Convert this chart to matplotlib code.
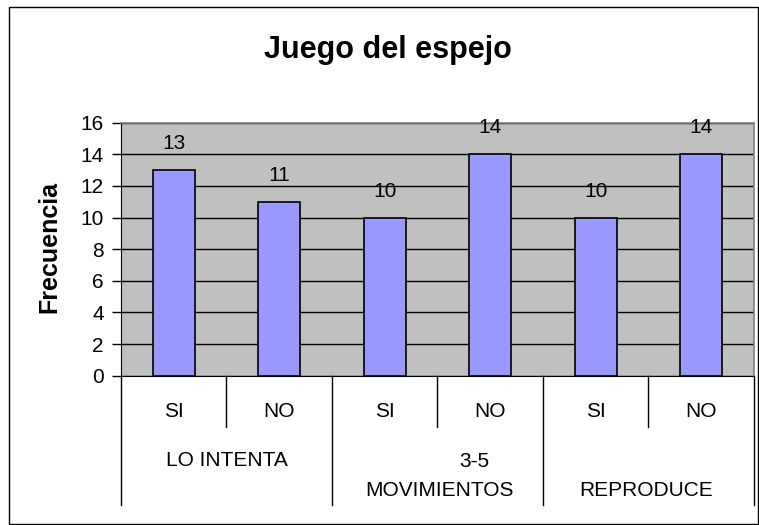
import matplotlib
matplotlib.use("Agg")
import matplotlib.pyplot as plt
from matplotlib.patches import Rectangle
import matplotlib.transforms as mtransforms

plt.rcParams['font.family'] = ['Liberation Sans', 'DejaVu Sans']

title = "Juego del espejo"
ylabel = "Frecuencia"
sub_labels = ["SI", "NO", "SI", "NO", "SI", "NO"]
values = [13, 11, 10, 14, 10, 14]
yticks = [0, 2, 4, 6, 8, 10, 12, 14, 16]

W, H = 759, 525
fig = plt.figure(figsize=(W / 100, H / 100), dpi=100)
fig.patch.set_facecolor('white')

# outer chart border
fig.patches.append(Rectangle((9 / W, 1 - 523.5 / H), (758 - 9) / W, (523.5 - 7) / H,
                             transform=fig.transFigure, fill=False,
                             edgecolor='black', linewidth=1.0))

left, right, top, bottom = 121, 754, 122.7, 375.7
ax = fig.add_axes([left / W, 1 - bottom / H, (right - left) / W, (bottom - top) / H])
ax.set_facecolor('#C0C0C0')

x = list(range(len(values)))
ax.bar(x, values, width=0.4, color='#9999FF', edgecolor='black', linewidth=1.2, zorder=3)
ax.set_xlim(-0.5, len(values) - 0.5)
ax.set_ylim(0, 16)
ax.set_yticks(yticks)
ax.set_yticklabels([str(t) for t in yticks], fontsize=15)
ax.yaxis.grid(True, color='black', linewidth=1.0, zorder=0)
ax.set_axisbelow(True)
ax.tick_params(axis='y', direction='out', length=6.5, width=1, pad=6)
ax.set_xticks([])
for s in ['top', 'right']:
    ax.spines[s].set_color('#808080')
    ax.spines[s].set_linewidth(1.2)
ax.spines['left'].set_color('black')
ax.spines['bottom'].set_color('black')

for xi, v in zip(x, values):
    ax.annotate(str(v), (xi, v), xytext=(0, 15), textcoords='offset points',
                ha='center', va='baseline', fontsize=15)

trans = mtransforms.blended_transform_factory(ax.transData, ax.transAxes)
axh = bottom - top
inner_y = -(427 - bottom) / axh
outer_y = -(505 - bottom) / axh
for b in [0.5, 2.5, 4.5]:
    ax.plot([b, b], [0, inner_y], transform=trans, color='black', lw=1.0, clip_on=False)
for b in [-0.5, 1.5, 3.5, 5.5]:
    ax.plot([b, b], [0, outer_y], transform=trans, color='black', lw=1.0, clip_on=False)

for xi, lab in zip(x, sub_labels):
    ax.text(xi, -(417 - bottom) / axh, lab, transform=trans, ha='center', va='baseline', fontsize=15)

group_texts = [
    ("LO INTENTA", 227, 466),
    ("3-5", 474, 467),
    ("MOVIMIENTOS", 440, 496),
    ("REPRODUCE", 646, 496),
]
step = (right - left) / len(values)
for txt, px, py in group_texts:
    ax.text((px - left) / step - 0.5, -(py - bottom) / axh, txt, transform=trans,
            ha='center', va='baseline', fontsize=15)

fig.text(388 / W, 1 - 58 / H, title, ha='center', va='baseline', fontsize=22, fontweight='bold')
fig.text(49 / W, 1 - 247 / H, ylabel, ha='center', va='center', rotation=90,
         fontsize=18, fontweight='bold')

fig.savefig('out.png', dpi=100, facecolor='white')
